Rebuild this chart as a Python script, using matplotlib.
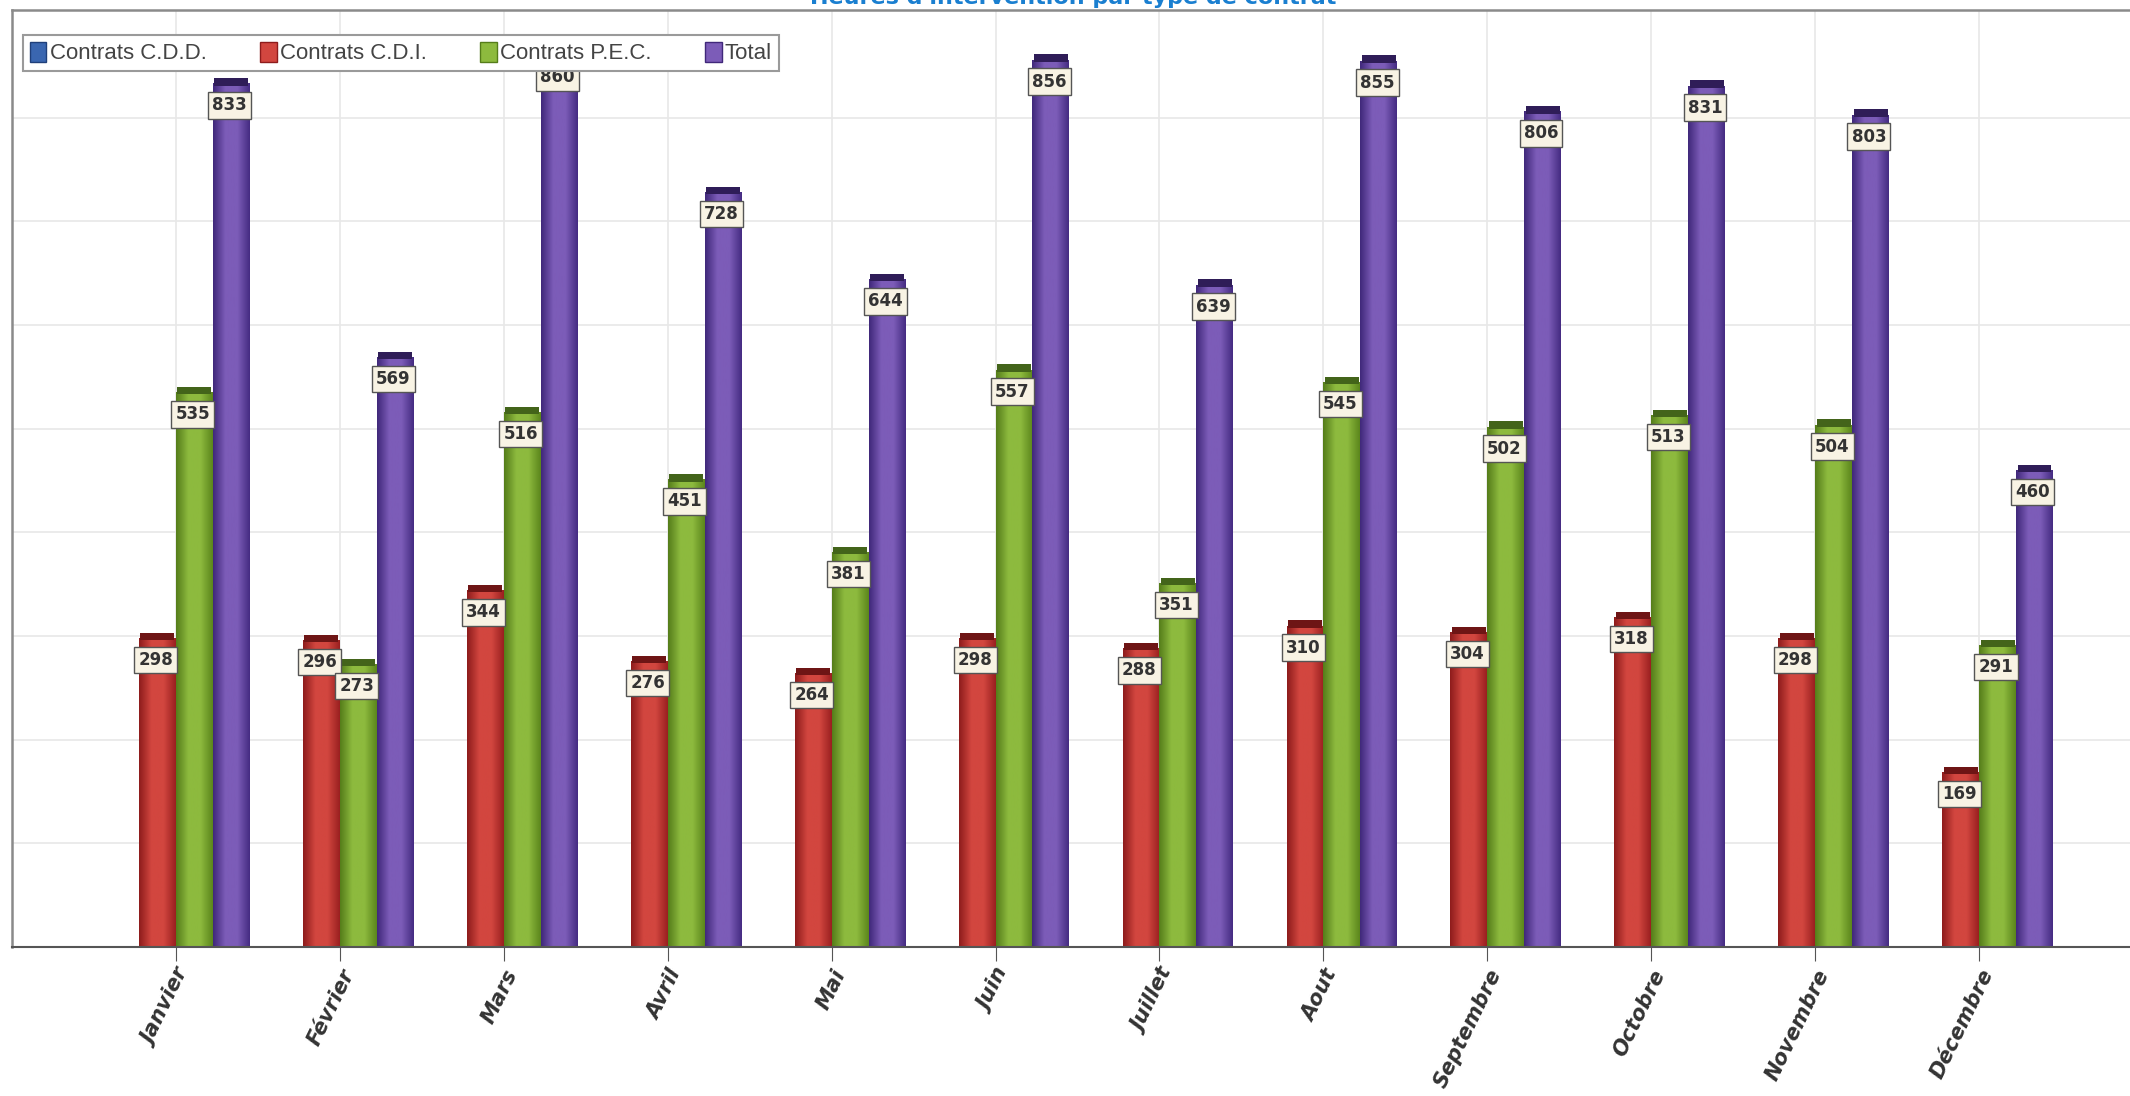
import numpy as np
import matplotlib.pyplot as plt
from matplotlib.colors import LinearSegmentedColormap

mois = ['Janvier', 'Février', 'Mars', 'Avril', 'Mai', 'Juin', 'Juillet',
        'Aout', 'Septembre', 'Octobre', 'Novembre', 'Décembre']
cdd = [0, 0, 0, 0, 0, 0, 0, 0, 0, 0, 0, 0]
cdi = [298, 296, 344, 276, 264, 298, 288, 310, 304, 318, 298, 169]
pec = [535, 273, 516, 451, 381, 557, 351, 545, 502, 513, 504, 291]
total = [833, 569, 860, 728, 644, 856, 639, 855, 806, 831, 803, 460]

series = [
    ('Contrats C.D.D.', cdd, ['#1f3f7a', '#3a66b0', '#1f3f7a'], '#162f5c'),
    ('Contrats C.D.I.', cdi, ['#8e1c1c', '#d2463f', '#9a2020'], '#6e1515'),
    ('Contrats P.E.C.', pec, ['#557d1a', '#8dba3e', '#5c861c'], '#43641a'),
    ('Total', total, ['#40287a', '#7c5cb8', '#452c82'], '#2f1d58'),
]

fig = plt.figure(figsize=(21.3, 10.96), dpi=100)
ax = fig.add_axes([0.0056, 0.136, 0.9944, 0.855])

x = np.arange(len(mois))
w = 0.225
offsets = [-1.5, -0.5, 0.5, 1.5]
ymax = 904

grad = np.linspace(0, 1, 64).reshape(1, -1)
for (name, vals, cols, capc), off in zip(series, offsets):
    cmap = LinearSegmentedColormap.from_list(name, [cols[0], cols[1], cols[1], cols[2]])
    bars = ax.bar(x + off * w, vals, w, color=cols[1], label=name, zorder=2)
    for b, v in zip(bars, vals):
        if v <= 0:
            continue
        im = ax.imshow(grad, cmap=cmap, aspect='auto', zorder=2.5,
                       extent=[b.get_x(), b.get_x() + b.get_width(), 0, v])
        im.set_clip_path(b)
        # dark top cap of the cylinder
        ax.bar(b.get_x() + b.get_width() / 2, 7, b.get_width() * 0.92, bottom=v - 2,
               color=capc, zorder=3)
        if name != 'Contrats C.D.D.':
            ax.annotate(str(v), (b.get_x() + b.get_width() / 2 - 0.01, v),
                        xytext=(0, -22), textcoords='offset pixels',
                        ha='center', va='center', fontsize=12, fontweight='bold',
                        color='#333333', zorder=5,
                        bbox=dict(boxstyle='square,pad=0.25', fc='#f8f3e4',
                                  ec='#555555', lw=1))

ax.set_xlim(-1.0, 11.92)
ax.set_ylim(0, ymax)
ax.set_yticks(np.arange(100, 900, 100))
ax.set_yticklabels([])
ax.tick_params(axis='y', length=0)
ax.set_xticks(x)
ax.set_xticklabels(mois, rotation=64, ha='right', rotation_mode='anchor',
                   fontsize=15, fontweight='bold', fontstyle='italic', color='#333333')
ax.tick_params(axis='x', length=10, color='#555555', pad=4)
ax.grid(True, color='#e8e8e8', lw=1.2, zorder=0)
ax.set_axisbelow(True)

for s in ['top', 'left']:
    ax.spines[s].set_color('#8a8a8a')
    ax.spines[s].set_linewidth(1.8)
ax.spines['right'].set_visible(False)
ax.spines['bottom'].set_color('#555555')
ax.spines['bottom'].set_linewidth(1.5)

handles = [plt.Rectangle((0, 0), 1, 1, fc=s[2][1], ec=s[2][0]) for s in series]
leg = ax.legend(handles, [s[0] for s in series], loc='upper left', ncol=4,
                bbox_to_anchor=(0.0, 0.985), frameon=True, fancybox=False,
                framealpha=1, prop={'family': 'Liberation Sans', 'size': 16},
                handlelength=0.75, handleheight=1.0, handletextpad=0.15,
                columnspacing=2.4, borderpad=0.3, labelcolor='#444444')
leg.set_zorder(10)
leg.get_frame().set_edgecolor('#9a9a9a')
leg.get_frame().set_linewidth(1.5)

fig.text(0.504, 1 - 4 / 1096, "Heures d'intervention par type de contrat",
         ha='center', va='baseline', fontsize=16, fontweight='bold', color='#1a7fd0')

fig.savefig('out.png', dpi=100)
